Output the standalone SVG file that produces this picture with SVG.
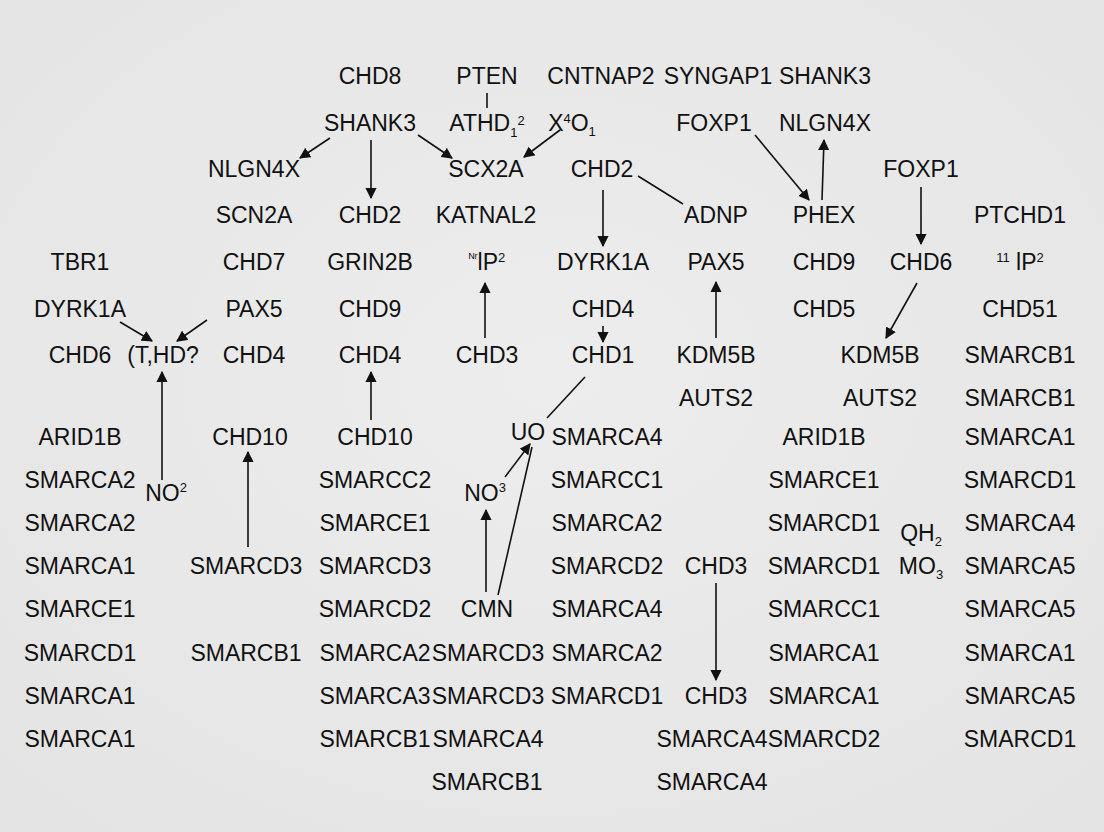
<svg xmlns="http://www.w3.org/2000/svg" width="1104" height="832" viewBox="0 0 1104 832">
<defs>
<radialGradient id="bg" cx="50%" cy="45%" r="70%"><stop offset="0" stop-color="#ededed"/><stop offset="1" stop-color="#e4e4e4"/></radialGradient>
<marker id="ah" viewBox="0 0 10 10" refX="9" refY="5" markerWidth="7" markerHeight="7" orient="auto"><path d="M0,0 L10,5 L0,10 z" fill="#111"/></marker>
</defs>
<style>
text{font-family:"Liberation Sans",Arial,sans-serif;font-size:23px;fill:#111;text-anchor:middle}
.s{font-size:13px;fill:#111}
line{stroke:#111;stroke-width:1.6}
.a{marker-end:url(#ah)}
</style>
<rect width="1104" height="832" fill="url(#bg)"/>
<g id="connectors">
<line x1="487" y1="93" x2="487" y2="108"/>
<line class="a" x1="330" y1="138" x2="300" y2="158"/>
<line class="a" x1="371" y1="140" x2="371" y2="198"/>
<line class="a" x1="418" y1="135" x2="452" y2="158"/>
<line class="a" x1="560" y1="130" x2="524" y2="157"/>
<line x1="638" y1="176" x2="683" y2="204"/>
<line class="a" x1="603" y1="190" x2="603" y2="246"/>
<line class="a" x1="755" y1="135" x2="809" y2="200"/>
<line class="a" x1="822" y1="200" x2="824" y2="140"/>
<line class="a" x1="921" y1="187" x2="921" y2="244"/>
<line class="a" x1="917" y1="283" x2="886" y2="338"/>
<line class="a" x1="120" y1="322" x2="152" y2="341"/>
<line class="a" x1="207" y1="320" x2="177" y2="341"/>
<line class="a" x1="162" y1="480" x2="162" y2="372"/>
<line class="a" x1="248" y1="547" x2="248" y2="452"/>
<line class="a" x1="371" y1="420" x2="371" y2="372"/>
<line class="a" x1="485" y1="338" x2="485" y2="283"/>
<line class="a" x1="603" y1="326" x2="603" y2="342"/>
<line x1="585" y1="377" x2="547" y2="418"/>
<line class="a" x1="716" y1="338" x2="716" y2="282"/>
<line class="a" x1="505" y1="477" x2="530" y2="444"/>
<line x1="498" y1="595" x2="532" y2="447"/>
<line class="a" x1="486" y1="592" x2="486" y2="510"/>
<line class="a" x1="716" y1="583" x2="716" y2="680"/>
</g>
<g id="nodes">
<g id="r1"><text x="370" y="84">CHD8</text><text x="487" y="84">PTEN</text><text x="601" y="84">CNTNAP2</text><text x="718" y="84">SYNGAP1</text><text x="825" y="84">SHANK3</text></g>
<g id="r2"><text x="370" y="131">SHANK3</text><text x="487" y="131">ATHD<tspan class="s" dy="6">1</tspan><tspan class="s" dy="-12">2</tspan></text><text x="572" y="131">X<tspan class="s" dy="-8">4</tspan><tspan dy="8">O</tspan><tspan class="s" dy="5">1</tspan></text><text x="714" y="131">FOXP1</text><text x="825" y="131">NLGN4X</text></g>
<g id="r3"><text x="254" y="177">NLGN4X</text><text x="486" y="177">SCX2A</text><text x="602" y="177">CHD2</text><text x="921" y="177">FOXP1</text></g>
<g id="r4"><text x="254" y="223">SCN2A</text><text x="370" y="223">CHD2</text><text x="486" y="223">KATNAL2</text><text x="716" y="223">ADNP</text><text x="824" y="223">PHEX</text><text x="1020" y="223">PTCHD1</text></g>
<g id="r5"><text x="80" y="270">TBR1</text><text x="254" y="270">CHD7</text><text x="370" y="270">GRIN2B</text><text x="487" y="270"><tspan class="s" dy="-8">ᴺʳ</tspan><tspan dy="8">lP</tspan><tspan class="s" dy="-8">2</tspan></text><text x="603" y="270">DYRK1A</text><text x="716" y="270">PAX5</text><text x="824" y="270">CHD9</text><text x="921" y="270">CHD6</text><text x="1020" y="270"><tspan class="s" dy="-8">11</tspan><tspan dy="8"> lP</tspan><tspan class="s" dy="-8">2</tspan></text></g>
<g id="r6"><text x="80" y="317">DYRK1A</text><text x="254" y="317">PAX5</text><text x="370" y="317">CHD9</text><text x="603" y="317">CHD4</text><text x="824" y="317">CHD5</text><text x="1020" y="317">CHD51</text></g>
<g id="r7"><text x="80" y="363">CHD6</text><text x="163" y="363">(T,HD?</text><text x="254" y="363">CHD4</text><text x="370" y="363">CHD4</text><text x="487" y="363">CHD3</text><text x="603" y="363">CHD1</text><text x="716" y="363">KDM5B</text><text x="880" y="363">KDM5B</text><text x="1020" y="363">SMARCB1</text></g>
<g id="r8"><text x="716" y="406">AUTS2</text><text x="880" y="406">AUTS2</text><text x="1020" y="406">SMARCB1</text></g>
<g id="r9"><text x="80" y="445">ARID1B</text><text x="250" y="445">CHD10</text><text x="375" y="445">CHD10</text><text x="528" y="440">UO</text><text x="607" y="445">SMARCA4</text><text x="824" y="445">ARID1B</text><text x="1020" y="445">SMARCA1</text></g>
<g id="r10"><text x="80" y="488">SMARCA2</text><text x="166" y="501">NO<tspan class="s" dy="-9">2</tspan></text><text x="375" y="488">SMARCC2</text><text x="485" y="501">NO<tspan class="s" dy="-9">3</tspan></text><text x="607" y="488">SMARCC1</text><text x="824" y="488">SMARCE1</text><text x="1020" y="488">SMARCD1</text></g>
<g id="r11"><text x="80" y="531">SMARCA2</text><text x="375" y="531">SMARCE1</text><text x="607" y="531">SMARCA2</text><text x="824" y="531">SMARCD1</text><text x="921" y="541">QH<tspan class="s" dy="5">2</tspan></text><text x="1020" y="531">SMARCA4</text></g>
<g id="r12"><text x="80" y="574">SMARCA1</text><text x="246" y="574">SMARCD3</text><text x="375" y="574">SMARCD3</text><text x="607" y="574">SMARCD2</text><text x="716" y="574">CHD3</text><text x="824" y="574">SMARCD1</text><text x="921" y="574">MO<tspan class="s" dy="5">3</tspan></text><text x="1020" y="574">SMARCA5</text></g>
<g id="r13"><text x="80" y="617">SMARCE1</text><text x="375" y="617">SMARCD2</text><text x="487" y="617">CMN</text><text x="607" y="617">SMARCA4</text><text x="824" y="617">SMARCC1</text><text x="1020" y="617">SMARCA5</text></g>
<g id="r14"><text x="80" y="661">SMARCD1</text><text x="246" y="661">SMARCB1</text><text x="375" y="661">SMARCA2</text><text x="488" y="661">SMARCD3</text><text x="607" y="661">SMARCA2</text><text x="824" y="661">SMARCA1</text><text x="1020" y="661">SMARCA1</text></g>
<g id="r15"><text x="80" y="704">SMARCA1</text><text x="375" y="704">SMARCA3</text><text x="488" y="704">SMARCD3</text><text x="607" y="704">SMARCD1</text><text x="716" y="704">CHD3</text><text x="824" y="704">SMARCA1</text><text x="1020" y="704">SMARCA5</text></g>
<g id="r16"><text x="80" y="747">SMARCA1</text><text x="375" y="747">SMARCB1</text><text x="488" y="747">SMARCA4</text><text x="712" y="747">SMARCA4</text><text x="824" y="747">SMARCD2</text><text x="1020" y="747">SMARCD1</text></g>
<g id="r17"><text x="487" y="790">SMARCB1</text><text x="712" y="790">SMARCA4</text></g>
</g>
</svg>
